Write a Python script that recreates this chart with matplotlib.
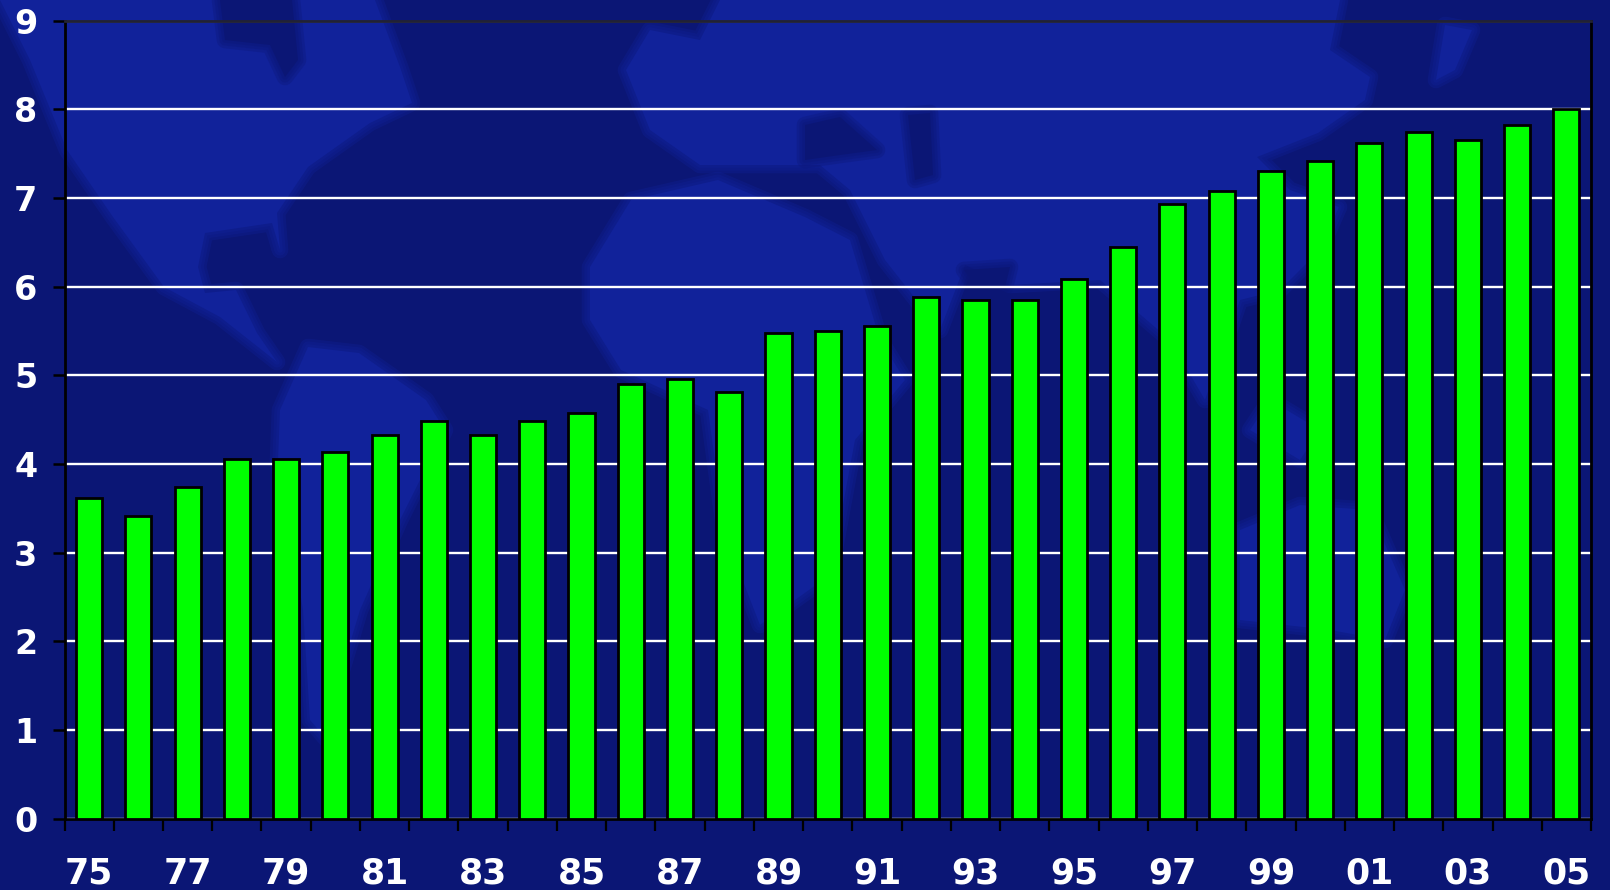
import matplotlib
matplotlib.use("Agg")
import matplotlib.pyplot as plt
from matplotlib.patches import Polygon
import numpy as np

years = ['75','76','77','78','79','80','81','82','83','84','85','86','87','88','89','90',
         '91','92','93','94','95','96','97','98','99','00','01','02','03','04','05']
values = [3.62,3.41,3.74,4.06,4.06,4.13,4.33,4.48,4.33,4.48,4.57,4.9,4.96,4.81,5.47,5.5,
          5.56,5.88,5.85,5.85,6.09,6.45,6.93,7.08,7.3,7.41,7.62,7.74,7.65,7.82,8.0]
yticks = list(range(10))

BG = '#0b1675'
LAND = '#11229a'
W, H = 1610, 890
fig = plt.figure(figsize=(W/100, H/100), dpi=100, facecolor=BG)

# decorative world-map backdrop, in a full-figure axes (pixel coords of the picture)
bg = fig.add_axes([0, 0, 1, 1], zorder=0)
bg.set_xlim(0, W); bg.set_ylim(H, 0); bg.axis('off')
land = [
    # North and Central America
    [(0,0),(375,0),(400,67),(412,103),(370,123),(308,167),(277,213),(280,250),(272,223),(205,233),
     (198,267),(205,293),(236,290),(257,333),(277,362),(220,317),(164,287),(113,217),(67,150),(30,60)],
    # South America
    [(308,347),(359,353),(426,400),(445,430),(400,520),(360,610),(330,710),(340,755),(310,720),(303,610),(278,460),(280,410)],
    # Europe and Asia
    [(626,70),(650,30),(700,40),(720,0),(1340,0),(1330,50),(1370,77),(1365,100),(1318,133),(1257,157),
     (1290,190),(1339,207),(1320,250),(1280,290),(1240,300),(1205,400),(1170,340),(1100,280),(1010,285),
     (965,265),(940,330),(885,260),(850,190),(820,165),(700,165),(650,130)],
    # Africa
    [(631,200),(718,180),(805,217),(850,240),(880,340),(905,380),(855,440),(830,575),(760,625),(725,535),
     (708,410),(621,370),(590,320),(590,267)],
    # Australia and islands
    [(1240,530),(1300,505),(1370,510),(1405,590),(1385,640),(1330,630),(1240,620)],
    [(1270,400),(1320,430),(1300,460),(1250,430)],
    # Japan
    [(1445,25),(1472,30),(1455,70),(1436,80)],
]
seas = [
    [(220,0),(292,0),(298,60),(285,77),(270,45),(225,40)],
    [(805,125),(840,117),(877,150),(840,155),(805,160)],
    [(908,115),(930,113),(933,175),(915,180)],
    [(964,270),(1010,267),(1005,287),(975,285)],
]
def soft(poly, color):
    # layered strokes give the blurred coastline of the backdrop
    for lw in (12, 8, 4):
        bg.add_patch(Polygon(poly, closed=True, fill=False, edgecolor=color, alpha=0.3,
                             linewidth=lw, joinstyle='round'))
    bg.add_patch(Polygon(poly, closed=True, facecolor=color, edgecolor='none'))
for poly in land:
    soft(poly, LAND)
for poly in seas:
    soft(poly, BG)

ax = fig.add_axes([64.5/W, 1-818.5/H, (1591-64.5)/W, (818.5-20.5)/H], zorder=1)
ax.patch.set_alpha(0)
x = np.arange(len(values))
ax.bar(x, values, width=0.53, color='#00ff00', edgecolor='black', linewidth=2.0, zorder=3)
ax.set_xlim(-0.5, len(values)-0.5)
ax.set_ylim(0, 9)
ax.set_yticks(yticks)
ax.set_yticklabels([str(v) for v in yticks], fontsize=24, fontweight='bold', color='white')
ax.set_xticks(np.arange(len(values)+1)-0.5)
ax.set_xticklabels([])
ax.set_xticks(x[::2], minor=True)
ax.set_xticklabels(years[::2], minor=True, fontsize=25, fontweight='bold', color='white', va='baseline')
ax.tick_params(axis='x', which='major', length=8.5, width=1.6, color='black', direction='out')
ax.tick_params(axis='x', which='minor', length=0, pad=47)
ax.tick_params(axis='y', length=8.5, width=1.8, color='black', direction='out', pad=11)
ax.yaxis.grid(True, color='white', linewidth=1.7, zorder=1)
ax.set_axisbelow(True)
for side in ['left', 'right', 'bottom']:
    ax.spines[side].set_color('black'); ax.spines[side].set_linewidth(2.0)
ax.spines['top'].set_color('#222233'); ax.spines['top'].set_linewidth(2.0)
fig.savefig('out.png', dpi=100, facecolor=BG)
